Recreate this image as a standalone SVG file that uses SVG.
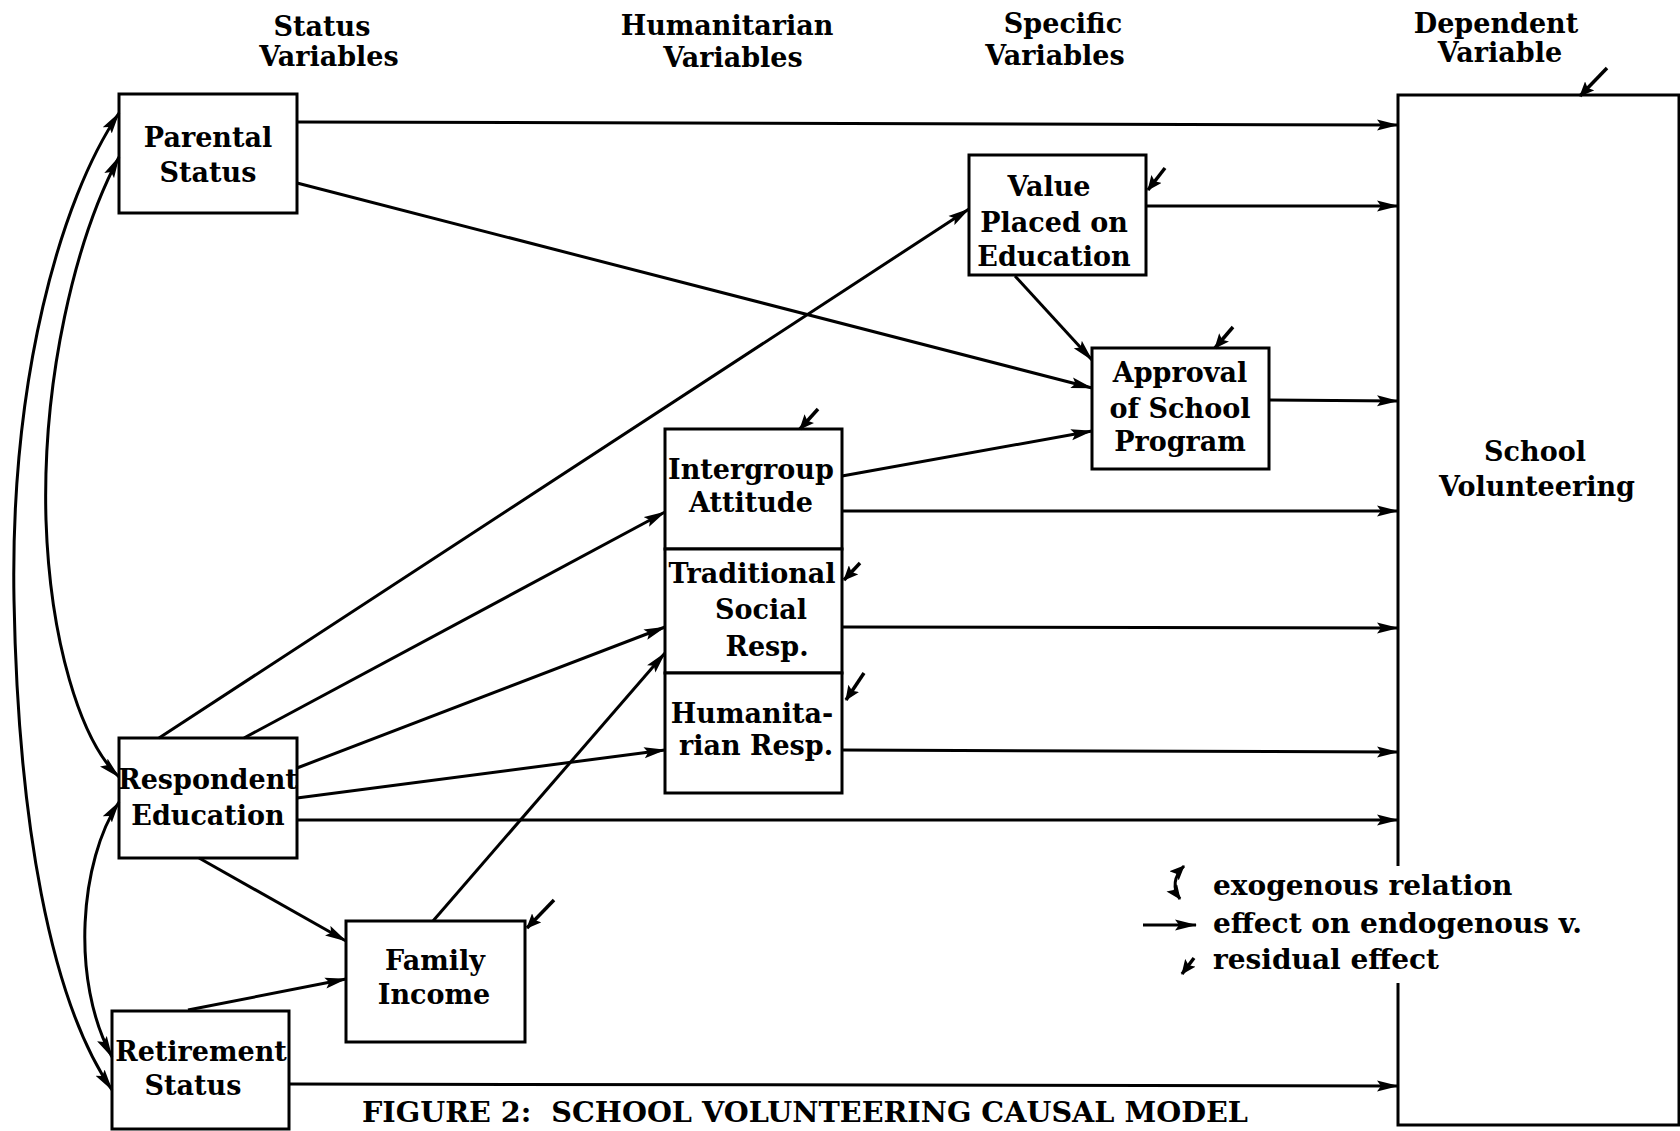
<svg xmlns="http://www.w3.org/2000/svg" width="1680" height="1131" viewBox="0 0 1680 1131">
<style>
.box{fill:#fff;stroke:#000;stroke-width:3}
.lbl{font-family:"DejaVu Serif",serif;font-weight:bold;font-size:27px;text-anchor:middle;fill:#000}
.hdr{font-family:"DejaVu Serif",serif;font-weight:bold;font-size:27px;text-anchor:middle;fill:#000}
.leg{font-family:"DejaVu Serif",serif;font-weight:bold;font-size:28px;fill:#000}
.cap{font-family:"DejaVu Serif",serif;font-weight:bold;font-size:28px;fill:#000}
.conn{stroke:#000;stroke-width:3;fill:none;marker-end:url(#ah)}
.exo{stroke:#000;stroke-width:3;fill:none;marker-start:url(#ah);marker-end:url(#ah)}
.res{stroke:#000;stroke-width:3.5;fill:none;marker-end:url(#rh)}
</style>
<defs>
<marker id="ah" viewBox="0 0 22 12" refX="21" refY="6" markerWidth="22" markerHeight="12" markerUnits="userSpaceOnUse" orient="auto-start-reverse">
<path d="M0,0.5 L22,6 L0,11.5 L4,6 z" fill="#000"/>
</marker>
<marker id="rh" viewBox="0 0 15 13" refX="14" refY="6.5" markerWidth="15" markerHeight="13" markerUnits="userSpaceOnUse" orient="auto-start-reverse">
<path d="M0,0 L15,6.5 L0,13 L3,6.5 z" fill="#000"/>
</marker>
</defs>
<rect x="0" y="0" width="1680" height="1131" fill="#fff"/>

<g id="headers">
<text class="hdr" x="322" y="36">Status</text>
<text class="hdr" x="329" y="66">Variables</text>
<text class="hdr" x="727" y="35">Humanitarian</text>
<text class="hdr" x="733" y="67">Variables</text>
<text class="hdr" x="1063" y="33">Specific</text>
<text class="hdr" x="1055" y="65">Variables</text>
<text class="hdr" x="1496" y="33">Dependent</text>
<text class="hdr" x="1500" y="62">Variable</text>
</g>

<g id="parental-status">
<rect class="box" x="119" y="94" width="178" height="119"/>
<text class="lbl" x="208" y="147">Parental</text>
<text class="lbl" x="208" y="182">Status</text>
</g>

<g id="value-placed-on-education">
<rect class="box" x="969" y="155" width="177" height="120"/>
<text class="lbl" x="1049" y="196">Value</text>
<text class="lbl" x="1054" y="232">Placed on</text>
<text class="lbl" x="1054" y="266">Education</text>
</g>

<g id="approval-of-school-program">
<rect class="box" x="1092" y="348" width="177" height="121"/>
<text class="lbl" x="1180" y="382">Approval</text>
<text class="lbl" x="1180" y="418">of School</text>
<text class="lbl" x="1180" y="451">Program</text>
</g>

<g id="intergroup-attitude">
<rect class="box" x="665" y="429" width="177" height="120"/>
<text class="lbl" x="751" y="479">Intergroup</text>
<text class="lbl" x="751" y="512">Attitude</text>
</g>

<g id="traditional-social-resp">
<rect class="box" x="665" y="549" width="177" height="124"/>
<text class="lbl" x="752" y="583">Traditional</text>
<text class="lbl" x="761" y="619">Social</text>
<text class="lbl" x="767" y="656">Resp.</text>
</g>

<g id="humanitarian-resp">
<rect class="box" x="665" y="673" width="177" height="120"/>
<text class="lbl" x="752" y="723">Humanita-</text>
<text class="lbl" x="756" y="755">rian Resp.</text>
</g>

<g id="respondent-education">
<rect class="box" x="119" y="738" width="178" height="120"/>
<text class="lbl" x="208" y="789">Respondent</text>
<text class="lbl" x="208" y="825">Education</text>
</g>

<g id="family-income">
<rect class="box" x="346" y="921" width="179" height="121"/>
<text class="lbl" x="435" y="970">Family</text>
<text class="lbl" x="434" y="1004">Income</text>
</g>

<g id="retirement-status">
<rect class="box" x="112" y="1011" width="177" height="118"/>
<text class="lbl" x="201" y="1061">Retirement</text>
<text class="lbl" x="193" y="1095">Status</text>
</g>

<g id="school-volunteering">
<rect x="1398" y="95" width="281" height="1030" fill="#fff"/>
<path d="M1398,866 L1398,95 L1679,95 L1679,1125 L1398,1125 L1398,983" fill="none" stroke="#000" stroke-width="3"/>
<text class="lbl" x="1535" y="461">School</text>
<text class="lbl" x="1537" y="496">Volunteering</text>
</g>

<g id="connectors">
<path class="conn" d="M297,122 L1398,125"/>
<path class="conn" d="M297,183 L1092,388"/>
<path class="conn" d="M1146,206 L1398,206"/>
<path class="conn" d="M1015,276 L1092,360"/>
<path class="conn" d="M159,738 L969,209"/>
<path class="conn" d="M244,738 L665,512"/>
<path class="conn" d="M297,768 L665,627"/>
<path class="conn" d="M433,921 L665,653"/>
<path class="conn" d="M297,798 L665,750"/>
<path class="conn" d="M297,820 L1398,820"/>
<path class="conn" d="M199,858 L346,941"/>
<path class="conn" d="M188,1010 L346,979"/>
<path class="conn" d="M842,476 L1092,431"/>
<path class="conn" d="M842,511 L1398,511"/>
<path class="conn" d="M842,627 L1398,628"/>
<path class="conn" d="M842,750 L1398,752"/>
<path class="conn" d="M1269,400 L1398,401"/>
<path class="conn" d="M289,1084 L1398,1086"/>
<path class="exo" d="M119,113 C60,200 10,380 14,600 C18,820 50,1000 112,1090"/>
<path class="exo" d="M119,157 C75,240 42,380 46,520 C50,640 80,740 119,777"/>
<path class="exo" d="M119,802 C80,860 70,980 112,1057"/>
<path class="res" d="M1607,68 L1580,96"/>
<path class="res" d="M1165,168 L1148,190"/>
<path class="res" d="M1233,327 L1215,348"/>
<path class="res" d="M818,409 L800,429"/>
<path class="res" d="M860,563 L844,580"/>
<path class="res" d="M864,673 L846,700"/>
<path class="res" d="M554,900 L527,928"/>
</g>

<g id="legend">
<path d="M1184,866 C1174,876 1172,888 1180,899" fill="none" stroke="#000" stroke-width="3" marker-start="url(#rh)" marker-end="url(#rh)"/>
<text class="leg" x="1213" y="895">exogenous relation</text>
<path class="conn" d="M1143,925 L1196,925"/>
<text class="leg" x="1213" y="933">effect on endogenous v.</text>
<path class="res" d="M1194,958 L1182,974"/>
<text class="leg" x="1213" y="969">residual effect</text>
</g>

<text class="cap" x="362" y="1122" textLength="886" lengthAdjust="spacingAndGlyphs">FIGURE 2:&#160; SCHOOL VOLUNTEERING CAUSAL MODEL</text>
</svg>
